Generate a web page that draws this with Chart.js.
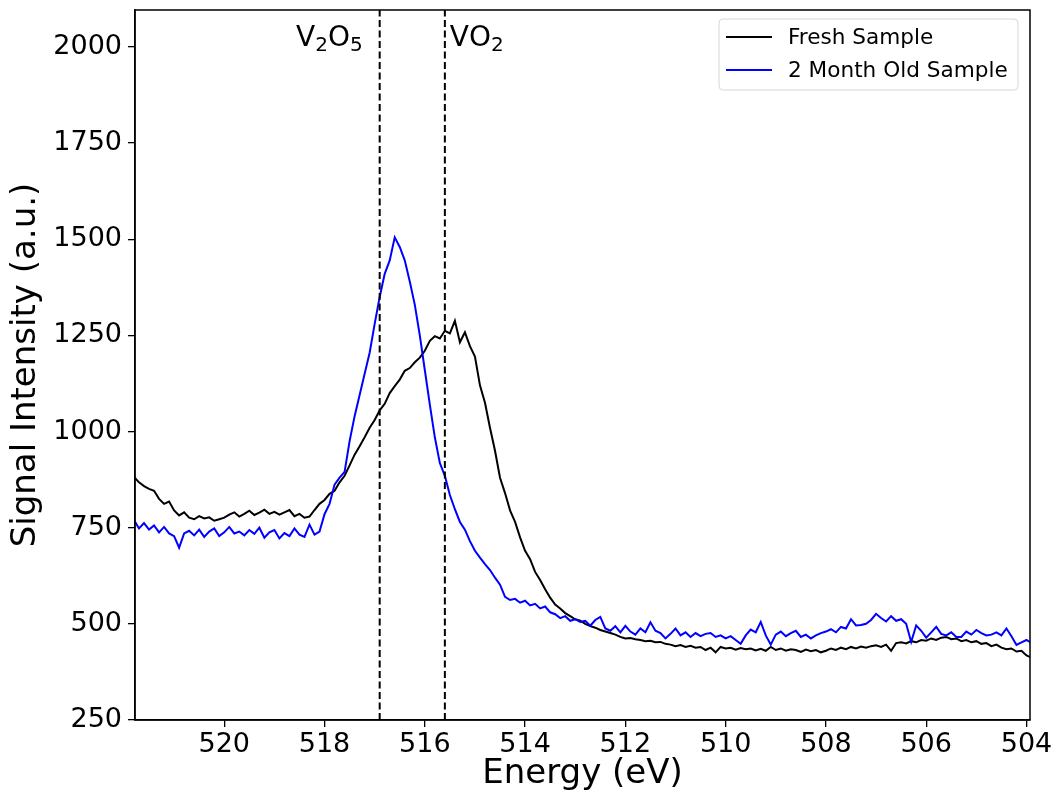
<!DOCTYPE html>
<html>
<head>
<meta charset="utf-8">
<script src="https://cdn.jsdelivr.net/npm/chart.js@4"></script>
<style>
  html, body { margin: 0; padding: 0; background: #fff; }
  canvas { display: block; }
</style>
</head>
<body>
<canvas id="xpsChart" width="1056" height="799"></canvas>
<script>
// Energie (eV), axe inversé
const energy = [
  521.8, 521.7, 521.6, 521.5, 521.4, 521.3, 521.2, 521.1, 521.0, 520.9,
  520.8, 520.7, 520.6, 520.5, 520.4, 520.3, 520.2, 520.1, 520.0, 519.9,
  519.8, 519.7, 519.6, 519.5, 519.4, 519.3, 519.2, 519.1, 519.0, 518.9,
  518.8, 518.7, 518.6, 518.5, 518.4, 518.3, 518.2, 518.1, 518.0, 517.9,
  517.8, 517.7, 517.6, 517.5, 517.4, 517.3, 517.2, 517.1, 517.0, 516.9,
  516.8, 516.7, 516.6, 516.5, 516.4, 516.3, 516.2, 516.1, 516.0, 515.9,
  515.8, 515.7, 515.6, 515.5, 515.4, 515.3, 515.2, 515.1, 515.0, 514.9,
  514.8, 514.7, 514.6, 514.5, 514.4, 514.3, 514.2, 514.1, 514.0, 513.9,
  513.8, 513.7, 513.6, 513.5, 513.4, 513.3, 513.2, 513.1, 513.0, 512.9,
  512.8, 512.7, 512.6, 512.5, 512.4, 512.3, 512.2, 512.1, 512.0, 511.9,
  511.8, 511.7, 511.6, 511.5, 511.4, 511.3, 511.2, 511.1, 511.0, 510.9,
  510.8, 510.7, 510.6, 510.5, 510.4, 510.3, 510.2, 510.1, 510.0, 509.9,
  509.8, 509.7, 509.6, 509.5, 509.4, 509.3, 509.2, 509.1, 509.0, 508.9,
  508.8, 508.7, 508.6, 508.5, 508.4, 508.3, 508.2, 508.1, 508.0, 507.9,
  507.8, 507.7, 507.6, 507.5, 507.4, 507.3, 507.2, 507.1, 507.0, 506.9,
  506.8, 506.7, 506.6, 506.5, 506.4, 506.3, 506.2, 506.1, 506.0, 505.9,
  505.8, 505.7, 505.6, 505.5, 505.4, 505.3, 505.2, 505.1, 505.0, 504.9,
  504.8, 504.7, 504.6, 504.5, 504.4, 504.3, 504.2, 504.1, 504.0, 503.9
];

const freshSample = [
  882, 868, 858, 851, 846, 825, 812, 818, 795, 782,
  790, 776, 772, 780, 774, 777, 768, 772, 776, 784,
  790, 779, 786, 794, 783, 789, 797, 786, 791, 784,
  790, 796, 780, 786, 776, 779, 796, 812, 822, 838,
  846, 868, 885, 912, 940, 962, 985, 1010, 1030, 1055,
  1072, 1100, 1118, 1135, 1158, 1165, 1180, 1192, 1210, 1236,
  1248, 1242, 1262, 1255, 1288, 1232, 1258, 1222, 1195, 1120,
  1075, 1010, 950, 880, 840, 795, 765, 725, 690, 668,
  635, 614, 590, 568, 550, 540, 528, 520, 512, 508,
  500, 494, 490, 484, 480, 476, 472, 466, 462, 463,
  460, 458, 455, 456, 452, 453, 448, 446, 442, 445,
  440, 443, 438, 440, 432, 438, 426, 440, 436, 438,
  433, 437, 434, 436, 431, 435, 430, 440, 432, 436,
  430, 434, 432, 427, 433, 429, 432, 426, 430, 436,
  432, 438, 434, 440, 436, 441, 438, 442, 444, 440,
  446, 430, 450, 452, 449, 455, 452, 458, 456, 462,
  458, 464, 466, 460, 462, 455, 458, 452, 455, 448,
  450, 442, 446, 438, 434, 436, 428, 430, 418, 412
];

const oldSample = [
  770, 748, 762, 745, 756, 738, 752, 735, 728, 698,
  735, 742, 730, 745, 726, 740, 748, 728, 738, 752,
  735, 740, 730, 744, 734, 750, 724, 738, 744, 722,
  736, 728, 748, 732, 726, 758, 732, 740, 785, 812,
  862, 880, 895, 975, 1040, 1095, 1150, 1205, 1280, 1350,
  1410, 1445, 1505, 1480, 1445, 1390, 1330, 1250, 1160, 1070,
  985, 918, 885, 835, 798, 765, 745, 715, 690, 672,
  655, 640, 620, 602, 570, 562, 565, 555, 560, 548,
  552, 540, 545, 530, 525, 515, 520, 508, 512, 505,
  508, 495, 510, 518, 488, 482, 494, 478, 495, 480,
  472, 488, 478, 504, 482, 476, 462, 474, 488, 470,
  478, 466, 476, 468, 474, 476, 466, 470, 462, 468,
  458, 448, 470, 485, 478, 505, 470, 446, 472, 480,
  468, 476, 482, 466, 472, 462, 470, 476, 480, 486,
  478, 492, 488, 512, 496, 497, 500, 510, 526, 515,
  506, 520, 508, 512, 500, 453, 496, 482, 464, 478,
  492, 474, 470, 478, 466, 466, 480, 472, 484, 476,
  470, 472, 478, 470, 488, 468, 445, 452, 458, 450
];

const xTicks = [520, 518, 516, 514, 512, 510, 508, 506, 504];
const yTicks = [250, 500, 750, 1000, 1250, 1500, 1750, 2000];
const xRange = [503.93, 521.78];
const yRange = [250, 2096];

// lignes de référence (V2O5, VO2)
const refEnergies = [516.9, 515.6];
const refLabels = [['V', '2', 'O', '5'], ['V', '', 'O', '2']];

const seriesNames = ['Fresh Sample', '2 Month Old Sample'];
const seriesColors = ['#000000', '#0000ff'];

const FONT = 'DejaVu Sans';
Chart.defaults.font.family = FONT;
Chart.defaults.color = '#000';

function toPoints(ys) {
  return energy.map((e, i) => ({ x: e, y: ys[i] }));
}

const datasets = [
  {
    label: seriesNames[0],
    data: toPoints(freshSample),
    borderColor: seriesColors[0],
    borderWidth: 2,
    pointRadius: 0,
    tension: 0,
    order: 2
  },
  {
    label: seriesNames[1],
    data: toPoints(oldSample),
    borderColor: seriesColors[1],
    borderWidth: 2,
    pointRadius: 0,
    tension: 0,
    order: 1
  }
];
refEnergies.forEach(e => {
  datasets.push({
    label: 'ref',
    data: [{ x: e, y: yRange[0] }, { x: e, y: yRange[1] }],
    borderColor: '#000',
    borderWidth: 2,
    borderDash: [7, 3.5],
    pointRadius: 0,
    order: 0
  });
});

// cadre haut/droite + légende + étiquettes
const decorations = {
  id: 'decorations',
  afterDraw(chart) {
    const { ctx, chartArea: a, scales } = chart;
    ctx.save();

    ctx.strokeStyle = '#000';
    ctx.lineWidth = 1.5;
    ctx.strokeRect(a.left, a.top, a.right - a.left, a.bottom - a.top);

    // étiquettes V2O5 / VO2
    const big = '28px ' + FONT, small = '20px ' + FONT;
    const base = 46;
    function labelWidth(parts) {
      let w = 0;
      parts.forEach((p, i) => { ctx.font = i % 2 ? small : big; w += ctx.measureText(p).width; });
      return w;
    }
    function drawLabel(parts, x) {
      ctx.textBaseline = 'alphabetic';
      ctx.textAlign = 'left';
      ctx.fillStyle = '#000';
      parts.forEach((p, i) => {
        ctx.font = i % 2 ? small : big;
        ctx.fillText(p, x, i % 2 ? base + 5 : base);
        x += ctx.measureText(p).width;
      });
    }
    const x0 = scales.x.getPixelForValue(refEnergies[0]);
    const x1 = scales.x.getPixelForValue(refEnergies[1]);
    drawLabel(refLabels[0], x0 - 17 - labelWidth(refLabels[0]));
    drawLabel(refLabels[1], x1 + 5);

    // légende
    const lx = 719, ly = 19, lw = 299, lh = 71;
    ctx.beginPath();
    ctx.roundRect(lx, ly, lw, lh, 4);
    ctx.fillStyle = 'rgba(255,255,255,0.8)';
    ctx.fill();
    ctx.strokeStyle = '#d6d6d6';
    ctx.lineWidth = 1;
    ctx.stroke();
    ctx.font = '21.6px ' + FONT;
    ctx.textBaseline = 'middle';
    seriesNames.forEach((name, i) => {
      const y = 37 + i * 33;
      ctx.strokeStyle = seriesColors[i];
      ctx.lineWidth = 2;
      ctx.beginPath();
      ctx.moveTo(726, y);
      ctx.lineTo(772, y);
      ctx.stroke();
      ctx.fillStyle = '#000';
      ctx.fillText(name, 788, y + 1);
    });
    ctx.restore();
  }
};

function zeroPadding(s) {
  s.paddingLeft = 0; s.paddingRight = 0; s.paddingTop = 0; s.paddingBottom = 0;
}

new Chart(document.getElementById('xpsChart'), {
  type: 'line',
  data: { datasets },
  options: {
    responsive: false,
    animation: false,
    layout: { padding: { left: 0, top: 10, right: 26, bottom: 0 } },
    plugins: {
      legend: { display: false },
      tooltip: { enabled: false }
    },
    scales: {
      x: {
        type: 'linear',
        reverse: true,
        min: xRange[0],
        max: xRange[1],
        afterBuildTicks: s => { s.ticks = xTicks.map(v => ({ value: v })); },
        afterFit: s => { s.height = 79; zeroPadding(s); },
        grid: { display: true, drawOnChartArea: false, tickLength: 7, color: '#000', lineWidth: 1.3 },
        border: { display: true, color: '#000', width: 1.5 },
        ticks: { font: { size: 27 }, color: '#000', padding: 2, maxRotation: 0, callback: v => String(v) },
        title: { display: true, text: 'Energy (eV)', font: { size: 34 }, color: '#000', padding: { bottom: 4 } }
      },
      y: {
        min: yRange[0],
        max: yRange[1],
        afterBuildTicks: s => { s.ticks = yTicks.map(v => ({ value: v })); },
        afterFit: s => { s.width = 135; zeroPadding(s); },
        grid: { display: true, drawOnChartArea: false, tickLength: 7, color: '#000', lineWidth: 1.3 },
        border: { display: true, color: '#000', width: 1.5 },
        ticks: { font: { size: 27 }, color: '#000', padding: 6, callback: v => String(v) },
        title: { display: true, text: 'Signal Intensity (a.u.)', font: { size: 34 }, color: '#000', padding: { top: 6 } }
      }
    }
  },
  plugins: [decorations]
});
</script>
</body>
</html>
